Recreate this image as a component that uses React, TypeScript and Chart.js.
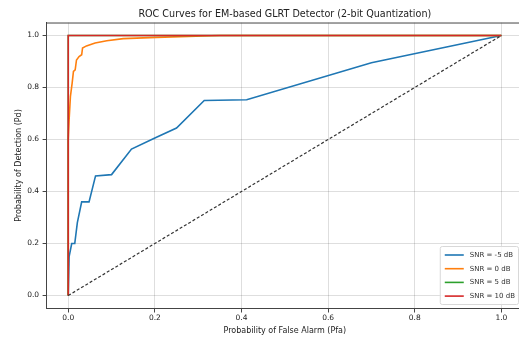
import React, { useEffect, useRef } from "react";
import { Chart, registerables } from "chart.js";

Chart.register(...registerables);

const chartTitle = "ROC Curves for EM-based GLRT Detector (2-bit Quantization)";
const xAxisLabel = "Probability of False Alarm (Pfa)";
const yAxisLabel = "Probability of Detection (Pd)";
const tickValues = [0, 0.2, 0.4, 0.6, 0.8, 1.0];

const seriesLabels = ["SNR = -5 dB", "SNR = 0 dB", "SNR = 5 dB", "SNR = 10 dB"];
const seriesColors = ["#1f77b4", "#ff7f0e", "#2ca02c", "#d62728"];

const pfaM5 = [0, 0.002, 0.008, 0.015, 0.021, 0.031, 0.048, 0.063, 0.1, 0.146, 0.2, 0.25, 0.314, 0.412, 0.7, 1.0];
const pdM5 = [0, 0.15, 0.2, 0.2, 0.28, 0.36, 0.36, 0.46, 0.465, 0.563, 0.606, 0.644, 0.75, 0.753, 0.895, 1.0];

const pfa0 = [0, 0, 0.002, 0.005, 0.009, 0.012, 0.016, 0.019, 0.025, 0.031, 0.033, 0.042, 0.062, 0.089, 0.127, 0.204, 0.35, 1.0];
const pd0 = [0, 0.6, 0.676, 0.766, 0.817, 0.862, 0.868, 0.906, 0.919, 0.926, 0.952, 0.96, 0.971, 0.98, 0.988, 0.993, 1.0, 1.0];

const pfa5 = [0, 0, 1.0];
const pd5 = [0, 1.0, 1.0];

const pfa10 = [0, 0, 1.0];
const pd10 = [0, 1.0, 1.0];

const chanceX = [0, 1];
const chanceY = [0, 1];

const FONT = "'DejaVu Sans', sans-serif";

function pts(xs: number[], ys: number[]) {
  return xs.map((x, i) => ({ x, y: ys[i] }));
}

export default function App() {
  const ref = useRef<HTMLCanvasElement | null>(null);

  useEffect(() => {
    const canvas = ref.current;
    if (!canvas) return;

    const series = [
      [pfaM5, pdM5],
      [pfa0, pd0],
      [pfa5, pd5],
      [pfa10, pd10],
    ];

    const datasets: any[] = series.map(([xs, ys], i) => ({
      label: seriesLabels[i],
      data: pts(xs, ys),
      borderColor: seriesColors[i],
      backgroundColor: seriesColors[i],
      borderWidth: 1.6,
      pointRadius: 0,
      showLine: true,
      tension: 0,
      fill: false,
      order: 4 - i,
    }));
    datasets.push({
      label: "chance",
      data: pts(chanceX, chanceY),
      borderColor: "#333333",
      borderWidth: 1.2,
      borderDash: [3, 2],
      pointRadius: 0,
      showLine: true,
      tension: 0,
      fill: false,
      order: -1,
    });

    const framePlugin = {
      id: "frameLegend",
      afterDraw(chart: any) {
        const { ctx, chartArea } = chart;
        const { left, right, top, bottom } = chartArea;
        ctx.save();
        ctx.strokeStyle = "#444444";
        ctx.lineWidth = 1;
        ctx.beginPath();
        ctx.moveTo(left, top + 0.5);
        ctx.lineTo(right, top + 0.5);
        ctx.moveTo(right - 0.5, top);
        ctx.lineTo(right - 0.5, bottom);
        ctx.stroke();

        // legend
        ctx.font = `7px ${FONT}`;
        let tw = 0;
        seriesLabels.forEach((l) => {
          tw = Math.max(tw, ctx.measureText(l).width);
        });
        const padL = 5;
        const padR = 3;
        const sw = 19;
        const gap = 6;
        const rowH = 13.7;
        const boxW = padL + sw + gap + tw + padR;
        const boxH = 58;
        const bx = right - 5 - boxW;
        const by = bottom - 4.5 - boxH;
        ctx.fillStyle = "rgba(255,255,255,0.85)";
        ctx.strokeStyle = "#d8d8d8";
        ctx.lineWidth = 1;
        ctx.beginPath();
        if (ctx.roundRect) ctx.roundRect(bx + 0.5, by + 0.5, boxW, boxH, 2);
        else ctx.rect(bx + 0.5, by + 0.5, boxW, boxH);
        ctx.fill();
        ctx.stroke();
        seriesLabels.forEach((l, i) => {
          const cy = by + 9 + i * rowH;
          ctx.strokeStyle = seriesColors[i];
          ctx.lineWidth = 1.6;
          ctx.beginPath();
          ctx.moveTo(bx + padL, cy);
          ctx.lineTo(bx + padL + sw, cy);
          ctx.stroke();
          ctx.fillStyle = "#333333";
          ctx.textAlign = "left";
          ctx.textBaseline = "middle";
          ctx.fillText(l, bx + padL + sw + gap, cy);
        });
        ctx.restore();
      },
    };

    const gridColor = "rgba(0,0,0,0.13)";

    const chart = new Chart(canvas, {
      type: "scatter",
      data: { datasets },
      options: {
        animation: false,
        responsive: false,
        maintainAspectRatio: false,
        layout: { padding: { left: 0, right: 17, top: 0, bottom: 0 } },
        plugins: {
          legend: { display: false },
          tooltip: { enabled: false },
          title: {
            display: true,
            text: chartTitle,
            fullSize: false,
            color: "#222222",
            font: { family: FONT, size: 9.6, weight: "normal", lineHeight: 1.2 },
            padding: { top: 9.2, bottom: 1.8 },
          },
        },
        scales: {
          x: {
            type: "linear",
            min: -0.05,
            max: 1.05,
            afterBuildTicks: (scale: any) => {
              scale.ticks = tickValues.map((v) => ({ value: v }));
            },
            afterFit: (scale: any) => {
              scale.height = 28.5;
            },
            ticks: {
              color: "#222222",
              font: { family: FONT, size: 7.5 },
              padding: 1.5,
              maxRotation: 0,
              autoSkip: false,
              callback: (v: any) => Number(v).toFixed(1),
            },
            grid: {
              color: gridColor,
              lineWidth: 1,
              drawTicks: true,
              tickLength: 4,
              tickColor: "#444444",
            },
            border: { display: true, color: "#444444", width: 1 },
            title: {
              display: true,
              text: xAxisLabel,
              color: "#222222",
              font: { family: FONT, size: 8, lineHeight: 1.2 },
              padding: { top: 0, bottom: 1.5 },
            },
          },
          y: {
            type: "linear",
            min: -0.05,
            max: 1.05,
            afterBuildTicks: (scale: any) => {
              scale.ticks = tickValues.map((v) => ({ value: v }));
            },
            afterFit: (scale: any) => {
              scale.width = 46.6;
            },
            ticks: {
              color: "#222222",
              font: { family: FONT, size: 7.5 },
              padding: 3.5,
              autoSkip: false,
              callback: (v: any) => Number(v).toFixed(1),
            },
            grid: {
              color: gridColor,
              lineWidth: 1,
              drawTicks: true,
              tickLength: 4,
              tickColor: "#444444",
            },
            border: { display: true, color: "#444444", width: 1 },
            title: {
              display: true,
              text: yAxisLabel,
              color: "#222222",
              font: { family: FONT, size: 8, lineHeight: 1.2 },
              padding: { top: 14.2, bottom: 0 },
            },
          },
        },
      },
      plugins: [framePlugin],
    });

    return () => {
      chart.destroy();
    };
  }, []);

  return (
    <div
      style={{
        position: "fixed",
        left: 0,
        top: 0,
        width: 519,
        height: 337,
        overflow: "hidden",
        background: "#ffffff",
      }}
    >
      <canvas ref={ref} width={540} height={337} style={{ display: "block", width: 540, height: 337 }} />
    </div>
  );
}
